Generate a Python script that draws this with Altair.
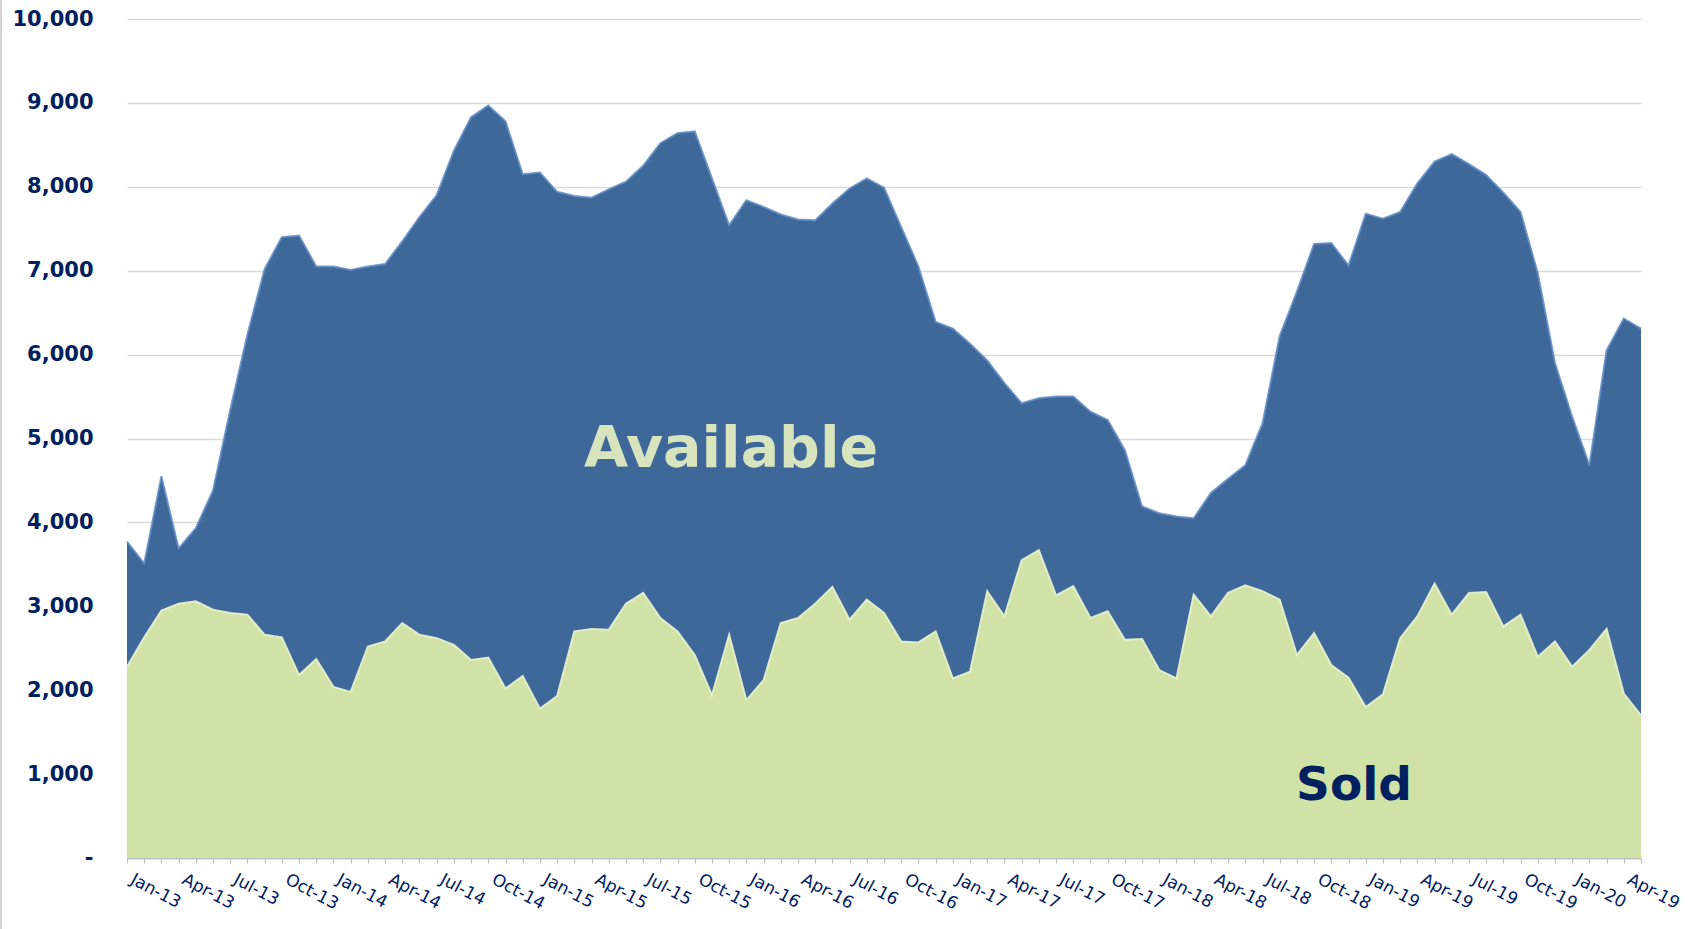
import altair as alt
import pandas as pd

# Monthly inventory: units available vs. units sold (Jan-13 onward)
available = [
    3770, 3510, 4550, 3690, 3930, 4380, 5340, 6240, 7020, 7400,
    7420, 7050, 7050, 7010, 7050, 7080, 7350, 7640, 7900, 8430,
    8830, 8970, 8780, 8150, 8170, 7940, 7890, 7870, 7970, 8060,
    8250, 8520, 8640, 8660, 8100, 7540, 7840, 7760, 7670, 7610,
    7600, 7800, 7980, 8100, 7990, 7520, 7050, 6390, 6310, 6130,
    5930, 5660, 5420, 5480, 5500, 5500, 5320, 5220, 4860, 4190,
    4110, 4070, 4050, 4350, 4520, 4680, 5180, 6220, 6750, 7320,
    7330, 7060, 7680, 7620, 7700, 8040, 8300, 8390, 8270, 8140,
    7930, 7700, 6970, 5900, 5260, 4680, 6050, 6430, 6310,
]
sold = [
    2280, 2630, 2950, 3030, 3060, 2960, 2920, 2900, 2660, 2630,
    2180, 2370, 2040, 1980, 2520, 2580, 2800, 2660, 2620, 2540,
    2360, 2390, 2020, 2170, 1780, 1930, 2700, 2730, 2720, 3030,
    3160, 2860, 2700, 2420, 1940, 2660, 1880, 2120, 2800, 2860,
    3030, 3230, 2840, 3080, 2920, 2580, 2570, 2700, 2140, 2220,
    3180, 2880, 3550, 3670, 3130, 3240, 2860, 2940, 2600, 2610,
    2240, 2140, 3140, 2880, 3160, 3250, 3180, 3080, 2420, 2680,
    2300, 2150, 1800, 1950, 2620, 2880, 3270, 2900, 3160, 3170,
    2760, 2900, 2400, 2580, 2280, 2480, 2730, 1960, 1700,
]
# One label every third month
quarter_labels = [
    "Jan-13", "Apr-13", "Jul-13", "Oct-13", "Jan-14", "Apr-14", "Jul-14", "Oct-14",
    "Jan-15", "Apr-15", "Jul-15", "Oct-15", "Jan-16", "Apr-16", "Jul-16", "Oct-16",
    "Jan-17", "Apr-17", "Jul-17", "Oct-17", "Jan-18", "Apr-18", "Jul-18", "Oct-18",
    "Jan-19", "Apr-19", "Jul-19", "Oct-19", "Jan-20", "Apr-19",
]
y_ticks = list(range(0, 10001, 1000))

BLUE = "#3e6899"
BLUE_EDGE = "#5f8cc4"
GREEN = "#d1e2a6"
GREEN_EDGE = "#e9f2cf"
NAVY = "#002060"

n = len(available)
df = pd.DataFrame({"month": list(range(n)), "Available": available, "Sold": sold})

label_array = "[" + ",".join(f"'{s}'" for s in quarter_labels) + "]"
x_axis = alt.Axis(
    values=list(range(n)),
    labelExpr=f"(datum.value % 3 == 0 && datum.value / 3 < {len(quarter_labels)}) ? {label_array}[datum.value / 3] : ''",
    labelAngle=28,
    labelAlign="left",
    labelBaseline="top",
    labelFont="DejaVu Sans",
    labelFontSize=17,
    labelColor=NAVY,
    labelPadding=8,
    labelOffset=8,
    labelFlush=False,
    labelOverlap=False,
    labelBound=False,
    tickSize=5,
    tickColor="#bfbfbf",
    tickWidth=1.2,
    domainColor="#bfbfbf",
    domainWidth=1.5,
    grid=False,
    title=None,
)
y_axis = alt.Axis(
    values=y_ticks,
    labelExpr="datum.value == 0 ? '-\u00a0\u00a0' : format(datum.value, ',')",
    labelFont="DejaVu Sans",
    labelFontWeight="bold",
    labelFontSize=21,
    labelColor=NAVY,
    labelPadding=34,
    ticks=False,
    tickSize=0,
    domain=False,
    gridColor="#d9d9d9",
    gridWidth=1.3,
    title=None,
)

x_scale = alt.Scale(domain=[0, n - 1], nice=False, zero=False)
y_scale = alt.Scale(domain=[0, 10000], nice=False)

base = alt.Chart(df)

# the first layer carries both axes; the others share its scales only
avail_area = base.mark_area(color=BLUE, opacity=1).encode(
    x=alt.X("month:Q", scale=x_scale, axis=x_axis),
    y=alt.Y("Available:Q", scale=y_scale, axis=y_axis),
)
avail_edge = base.mark_line(color=BLUE_EDGE, strokeWidth=2, opacity=0.85).encode(
    x=alt.X("month:Q", scale=x_scale, axis=None),
    y=alt.Y("Available:Q", scale=y_scale, axis=None),
)
sold_area = base.mark_area(color=GREEN, opacity=1).encode(
    x=alt.X("month:Q", scale=x_scale, axis=None),
    y=alt.Y("Sold:Q", scale=y_scale, axis=None),
)
sold_edge = base.mark_line(color=GREEN_EDGE, strokeWidth=2, opacity=0.9).encode(
    x=alt.X("month:Q", scale=x_scale, axis=None),
    y=alt.Y("Sold:Q", scale=y_scale, axis=None),
)

# series names written inside their areas (pixel offsets within the plot)
available_label = alt.Chart(pd.DataFrame({"t": ["Available"]})).mark_text(
    font="DejaVu Sans", fontWeight="bold", fontSize=57, color="#d8e4be",
    align="center", baseline="alphabetic",
).encode(x=alt.value(604), y=alt.value(448), text="t:N")

sold_label = alt.Chart(pd.DataFrame({"t": ["Sold"]})).mark_text(
    font="DejaVu Sans", fontWeight="bold", fontSize=47, color=NAVY,
    align="center", baseline="alphabetic",
).encode(x=alt.value(1227), y=alt.value(781), text="t:N")

# thin frame line at the far left edge of the figure
frame = alt.Chart(pd.DataFrame({"k": [0]})).mark_rule(color="#d4d4d4", strokeWidth=2).encode(
    x=alt.value(-126), y=alt.value(-19), y2=alt.value(910)
)

chart = alt.layer(
    avail_area, avail_edge, sold_area, sold_edge, available_label, sold_label, frame
).resolve_axis(
    x="independent", y="independent"
).properties(
    width=1514,
    height=839,
    padding={"left": 127, "top": 19, "right": 47, "bottom": 71},
    autosize=alt.AutoSizeParams(type="none"),
).configure_view(stroke=None)

chart.save("out.html", embed_options={"renderer": "svg", "actions": False})
